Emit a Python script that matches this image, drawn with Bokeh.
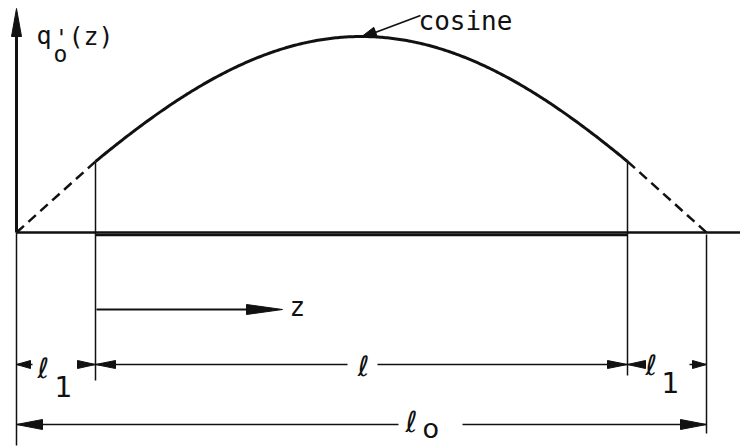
import numpy as np
from bokeh.plotting import figure
from bokeh.models import Range1d
from bokeh.core.properties import value
from bokeh.embed import file_html
from bokeh.resources import INLINE

# Axial power profile: chopped cosine over the active length, extrapolated to zero
L0 = 690          # extrapolated length  (l_o)
L1 = 79           # extrapolation distance at each end (l_1)
Q_PEAK = 196      # peak of q'_o(z)
Q_EDGE = 71       # q'_o(z) at the ends of the active length

# geometry of the dimension lines below the axis
Z_ARROW_Y = -77
DIM_L_Y = -132
DIM_L0_Y = -192

INK = "#111111"
MONO = value("DejaVu Sans Mono")
SANS = value("DejaVu Sans")

p = figure(width=740, height=447, x_range=Range1d(-16, 724), y_range=Range1d(-215, 232),
           output_backend="svg", toolbar_location=None, min_border=0,
           x_axis_location=None, y_axis_location=None)
p.grid.visible = False
p.outline_line_color = None
p.background_fill_color = "white"
p.border_fill_color = "white"

# chopped cosine over the active length l
le = np.pi * (L0 / 2 - L1) / np.arccos(Q_EDGE / Q_PEAK)
z = np.linspace(L1, L0 - L1, 300)
q = Q_PEAK * np.cos(np.pi * (z - L0 / 2) / le)
p.line(z, q, line_color=INK, line_width=3)

# dashed extrapolation to zero at both ends
p.line([0, L1], [0, Q_EDGE], line_color=INK, line_width=2.5, line_dash="10 6")
p.line([L0 - L1, L0], [Q_EDGE, 0], line_color=INK, line_width=2.5, line_dash="10 6")

# axes
p.line([0, 0], [0, 200], line_color=INK, line_width=3)
p.line([0, 724], [0, 0], line_color=INK, line_width=2.5)
p.line([L1, L0 - L1], [-2.5, -2.5], line_color=INK, line_width=2.5)

# extension lines
p.line([0, 0], [0, -213], line_color=INK, line_width=1.5)
p.line([L1, L1], [Q_EDGE, -148], line_color=INK, line_width=1.5)
p.line([L0 - L1, L0 - L1], [Q_EDGE, -143], line_color=INK, line_width=1.5)
p.line([L0, L0], [-2, -201], line_color=INK, line_width=1.5)

# z direction arrow
p.line([L1 + 1, 240], [Z_ARROW_Y, Z_ARROW_Y], line_color=INK, line_width=2)

# dimension lines (with gaps for labels)
p.multi_line(
    xs=[[L1, 331], [361, L0 - L1],
        [0, 16], [62, L1],
        [L0 - L1, L0 - L1 + 17], [L0 - 17, L0],
        [0, 382], [446, L0]],
    ys=[[DIM_L_Y] * 2, [DIM_L_Y] * 2,
        [DIM_L_Y] * 2, [DIM_L_Y] * 2,
        [DIM_L_Y] * 2, [DIM_L_Y] * 2,
        [DIM_L0_Y] * 2, [DIM_L0_Y] * 2],
    line_color=INK, line_width=1.5)

# cosine leader
p.line([404, 356], [217, 199], line_color=INK, line_width=1.8)


def head(tip, direction, length, half):
    d = np.array(direction, dtype=float)
    d /= np.hypot(*d)
    n = np.array([-d[1], d[0]])
    t = np.array(tip, dtype=float)
    b = t - length * d
    pts = [t, b + half * n, b - half * n]
    return [pt[0] for pt in pts], [pt[1] for pt in pts]


heads = [
    head((0, 224), (0, 1), 28, 5),                     # q axis
    head((266, Z_ARROW_Y), (1, 0), 36, 5),             # z arrow
    head((L1, DIM_L_Y), (-1, 0), 20, 4),               # l, left
    head((L0 - L1, DIM_L_Y), (1, 0), 20, 4),           # l, right
    head((0, DIM_L_Y), (-1, 0), 14, 4),                # l1 left, outer
    head((L1, DIM_L_Y), (1, 0), 18, 4),                # l1 left, inner
    head((L0 - L1, DIM_L_Y), (-1, 0), 18, 4),          # l1 right, inner
    head((L0, DIM_L_Y), (1, 0), 14, 4),                # l1 right, outer
    head((0, DIM_L0_Y), (-1, 0), 26, 5),               # l0, left
    head((L0, DIM_L0_Y), (1, 0), 26, 5),               # l0, right
    head((344, 195), (-60, -22), 16, 5),               # cosine leader
]
p.patches([h[0] for h in heads], [h[1] for h in heads],
          fill_color=INK, line_color=INK, line_width=1)

# labels
def txt(x, y, s, size, font=MONO, align="left"):
    p.text([x], [y], text=[s], text_font=font, text_font_size=size,
           text_color=INK, text_align=align, text_baseline="alphabetic")

txt(20, 197, "q", "25px")
txt(37, 179, "o", "23px")
txt(38, 195, "'", "23px")
txt(52, 196, "(z)", "25px")
txt(402, 212, "cosine", "26px")
txt(273, -74, "z", "26px")

txt(347, -134, "ℓ", "28px", SANS, "center")
txt(21, -136, "ℓ", "28px", SANS)
txt(38, -154, "1", "28px", SANS)
txt(629, -133, "ℓ", "28px", SANS)
txt(645, -150, "1", "28px", SANS)
txt(389, -189, "ℓ", "29px", SANS)
txt(406, -196, "o", "27px", SANS)

open("out.html", "w").write(file_html(p, INLINE))
